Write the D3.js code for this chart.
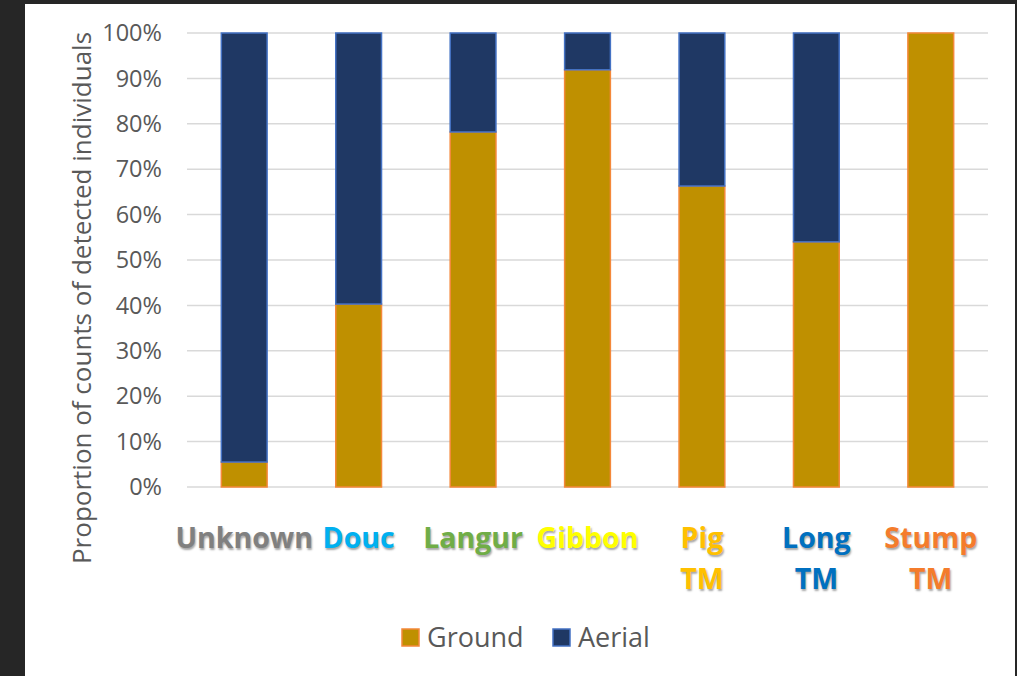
<!DOCTYPE html>
<html>
<head>
<meta charset="utf-8">
<script src="https://cdn.jsdelivr.net/npm/d3@7"></script>
<style>
  body { margin: 0; background: #262626; }
  svg { display: block; }
</style>
</head>
<body>
<svg id="chart" width="1017" height="676"></svg>
<script>
// data
var categories = ["Unknown", "Douc", "Langur", "Gibbon", "Pig TM", "Long TM", "Stump TM"];
var labelColors = ["#808080", "#00b0f0", "#70ad47", "#ffff00", "#ffc000", "#0070c0", "#f47c2c"];
var ground = [5.5, 40.3, 78.2, 91.9, 66.3, 54.0, 100];
var aerial = ground.map(function(g) { return 100 - g; });
var yTicks = [0, 10, 20, 30, 40, 50, 60, 70, 80, 90, 100];

var svg = d3.select("#chart");

// white panel inside the dark frame
svg.append("rect")
  .attr("x", 25).attr("y", 4)
  .attr("width", 990).attr("height", 672)
  .attr("fill", "#ffffff");

var x = d3.scaleBand()
  .domain(categories)
  .range([187, 988])
  .paddingInner(0.6)
  .paddingOuter(0.3);

var y = d3.scaleLinear()
  .domain([0, 100])
  .range([487, 33]);

// gridlines
svg.append("g")
  .selectAll("line")
  .data(yTicks)
  .enter()
  .append("line")
  .attr("x1", 187).attr("x2", 988)
  .attr("y1", function(d) { return y(d); })
  .attr("y2", function(d) { return y(d); })
  .attr("stroke", "#d9d9d9")
  .attr("stroke-width", 1.5);

// y tick labels
svg.append("g")
  .selectAll("text")
  .data(yTicks)
  .enter()
  .append("text")
  .attr("x", 162)
  .attr("y", function(d) { return y(d); })
  .attr("dy", "0.35em")
  .attr("text-anchor", "end")
  .attr("font-family", "Open Sans, sans-serif")
  .attr("font-size", "23.5px")
  .attr("fill", "#595959")
  .text(function(d) { return d + "%"; });

// y axis title
svg.append("text")
  .attr("transform", "translate(91,298) rotate(-90)")
  .attr("text-anchor", "middle")
  .attr("font-family", "Open Sans, sans-serif")
  .attr("font-size", "26px")
  .attr("fill", "#595959")
  .text("Proportion of counts of detected individuals");

// stacked bars
var bars = svg.append("g");
categories.forEach(function(c, i) {
  if (ground[i] > 0) {
    bars.append("rect")
      .attr("x", x(c))
      .attr("y", y(ground[i]))
      .attr("width", x.bandwidth())
      .attr("height", y(0) - y(ground[i]))
      .attr("fill", "#bf9000")
      .attr("stroke", "#f4883a")
      .attr("stroke-width", 1.5);
  }
  if (aerial[i] > 0) {
    bars.append("rect")
      .attr("x", x(c))
      .attr("y", y(100))
      .attr("width", x.bandwidth())
      .attr("height", y(ground[i]) - y(100))
      .attr("fill", "#1f3864")
      .attr("stroke", "#4472c4")
      .attr("stroke-width", 1.5);
  }
});

// category labels
var labels = svg.append("g")
  .attr("font-family", "Open Sans, sans-serif")
  .attr("font-weight", "bold")
  .attr("font-size", "28.5px")
  .attr("text-anchor", "middle")
  .style("text-shadow", "1px 2px 2px rgba(0,0,0,0.35)");

categories.forEach(function(c, i) {
  var lines = c.split(" ");
  var t = labels.append("text")
    .attr("fill", labelColors[i]);
  lines.forEach(function(l, j) {
    t.append("tspan")
      .attr("x", x(c) + x.bandwidth() / 2)
      .attr("y", 548 + j * 41)
      .text(l);
  });
});

// legend
var legendItems = [
  {name: "Ground", fill: "#bf9000", stroke: "#f4883a", x: 402},
  {name: "Aerial", fill: "#1f3864", stroke: "#4472c4", x: 553}
];
var legend = svg.append("g");
legendItems.forEach(function(d) {
  legend.append("rect")
    .attr("x", d.x).attr("y", 629)
    .attr("width", 17).attr("height", 17)
    .attr("fill", d.fill)
    .attr("stroke", d.stroke)
    .attr("stroke-width", 1.5);
  legend.append("text")
    .attr("x", d.x + 25)
    .attr("y", 647)
    .attr("font-family", "Open Sans, sans-serif")
    .attr("font-size", "27px")
    .attr("fill", "#595959")
    .text(d.name);
});
</script>
</body>
</html>
